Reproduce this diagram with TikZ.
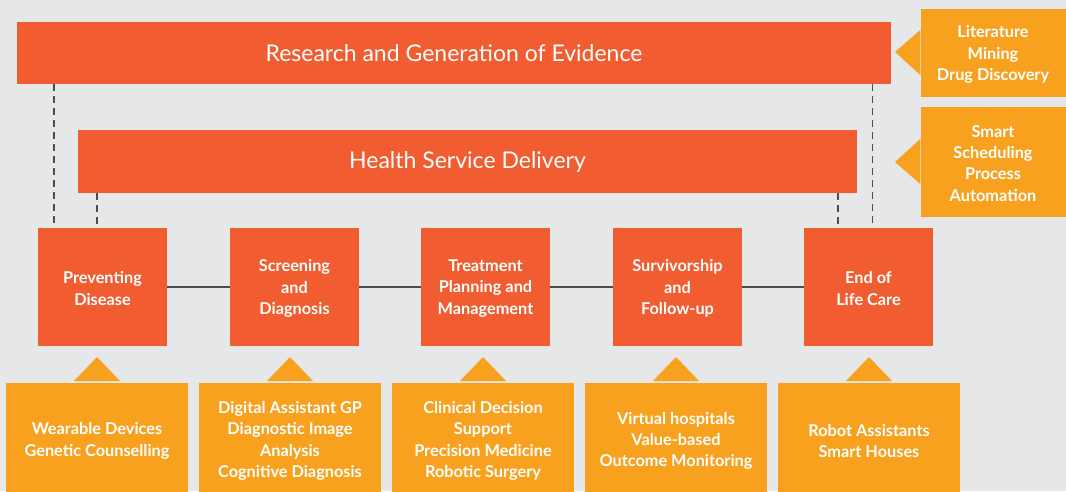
\documentclass[tikz,border=0pt]{standalone}
\usepackage{fontspec}
\setmainfont{Lato}
\definecolor{bg}{HTML}{E6E7E8}
\definecolor{redor}{HTML}{F15D30}
\definecolor{yelor}{HTML}{F7A11E}
\definecolor{lnc}{HTML}{4D4D4F}
\begin{document}
\begin{tikzpicture}[x=1pt,y=-1pt,
  bar/.style={fill=redor,draw=none,inner sep=0pt,text=white,font=\fontsize{23}{27}\selectfont},
  stage/.style={fill=redor,draw=none,inner sep=0pt,minimum width=129pt,minimum height=118pt,text=white,align=center,font=\bfseries\fontsize{16.3}{21}\selectfont},
  tool/.style={fill=yelor,draw=none,inner sep=0pt,minimum width=182pt,minimum height=114pt,text=white,align=center,font=\bfseries\fontsize{16.3}{21.3}\selectfont},
  side/.style={fill=yelor,draw=none,inner sep=0pt,minimum width=145pt,text=white,align=center,font=\bfseries\fontsize{16.3}{21}\selectfont},
  lbl/.style={text=white,align=center,inner sep=0pt,font=\bfseries\fontsize{16.3}{21.2}\selectfont},
  link/.style={draw=lnc,line width=1.3pt},
  dashline/.style={draw=lnc,line width=1.1pt,dash pattern=on 7pt off 5pt},
  tri/.style={fill=yelor,draw=none}]
\useasboundingbox (0,0) rectangle (1066,491);
\clip (0,0) rectangle (1066,491);
\fill[bg] (0,0) rectangle (1066,491);

\node[bar,minimum width=874pt,minimum height=62pt] (res) at (454,53) {\raisebox{-2.5pt}{Research and Generation of Evidence}};
\node[bar,minimum width=779pt,minimum height=63pt] (hsd) at (467.5,161.5) {\raisebox{-2pt}{Health Service Delivery}};

\node[side,minimum height=88pt] (lit) at (993,53) {};
\node[lbl] at (993,54.5) {Literature\\Mining\\Drug Discovery};
\node[side,minimum height=110pt] (sch) at (993,162) {};
\node[lbl] at (993,163.5) {Smart\\Scheduling\\Process\\Automation};
\fill[tri] (lit.west |- 0,30) -- (895,52) -- (lit.west |- 0,75) -- cycle;
\fill[tri] (sch.west |- 0,139) -- (895,162) -- (sch.west |- 0,184) -- cycle;

\node[stage] (s1) at (102.5,287) {};
\node[stage] (s2) at (294.5,287) {};
\node[stage] (s3) at (485.5,287) {};
\node[stage] (s4) at (677.5,287) {};
\node[stage] (s5) at (868.5,287) {};
\node[lbl] at (102.5,288.5) {Preventing\\Disease};
\node[lbl] at (294.5,288.5) {Screening\\and\\Diagnosis};
\node[lbl] at (485.5,288.5) {Treatment\\Planning and\\Management};
\node[lbl] at (677.5,288.5) {Survivorship\\and\\Follow-up};
\node[lbl] at (868.5,288.5) {End of\\Life Care};

\draw[link] (s1.east) -- (s2.west);
\draw[link] (s2.east) -- (s3.west);
\draw[link] (s3.east) -- (s4.west);
\draw[link] (s4.east) -- (s5.west);

\draw[dashline] (res.south -| 54,0) -- (s1.north -| 54,0);
\draw[dashline] (hsd.south -| 97,0) -- (s1.north -| 97,0);
\draw[dashline] (res.south -| 872.5,0) -- (s5.north -| 872.5,0);
\draw[dashline] (hsd.south -| 838,0) -- (s5.north -| 838,0);

\node[tool] (t1) at (97,440) {};
\node[tool] (t2) at (290,440) {};
\node[tool] (t3) at (483,440) {};
\node[tool] (t4) at (676,440) {};
\node[tool] (t5) at (869,440) {};
\node[lbl] at (97,441) {Wearable Devices\\Genetic Counselling};
\node[lbl] at (290,441) {Digital Assistant GP\\Diagnostic Image\\Analysis\\Cognitive Diagnosis};
\node[lbl] at (483,441) {Clinical Decision\\Support\\Precision Medicine\\Robotic Surgery};
\node[lbl] at (676,441) {Virtual hospitals\\Value-based\\Outcome Monitoring};
\node[lbl] at (869,441) {Robot Assistants\\Smart Houses};

\foreach \t in {t1,t2,t3,t4,t5}{
  \fill[tri] ([xshift=-23pt]\t.north |- 0,381) -- (\t.north |- 0,357) -- ([xshift=23pt]\t.north |- 0,381) -- cycle;
}
\end{tikzpicture}
\end{document}
